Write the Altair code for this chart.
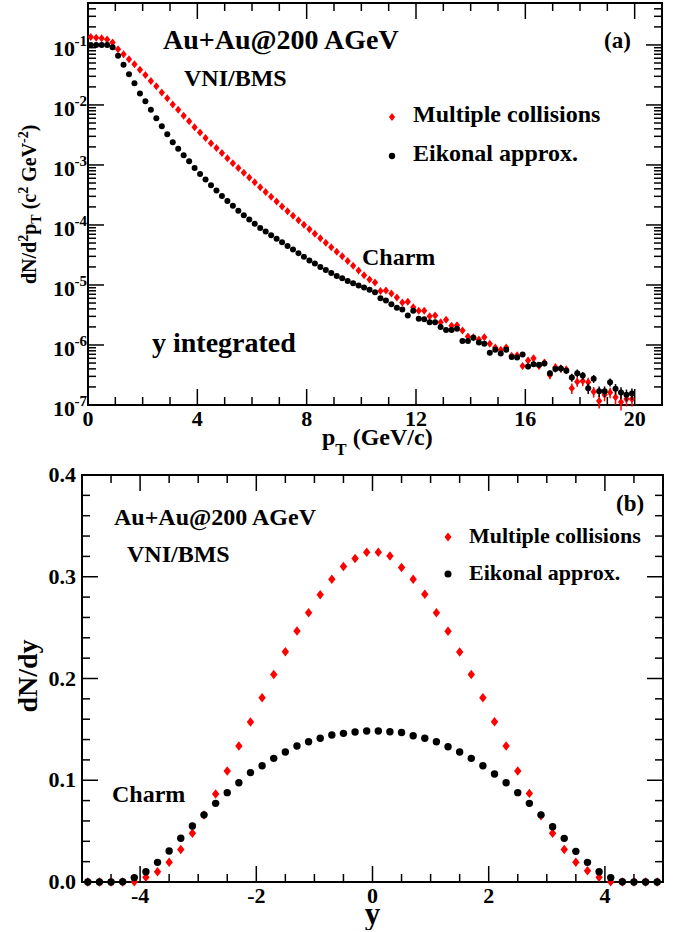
import altair as alt
import pandas as pd

FONT = "Liberation Serif"
RED = "#ff0000"
BLACK = "#000000"
DIAMOND = "M0,-1L0.78,0L0,1L-0.78,0Z"

# ---------------- panel (a): pT spectra ----------------
pt = [round(0.1 + 0.2 * i, 1) for i in range(100)]
multi_pt = [0.135, 0.132, 0.129, 0.123, 0.110, 0.0851, 0.0700, 0.0575, 0.0479, 0.0385,
            0.0316, 0.0251, 0.0204, 0.0162, 0.0129, 0.0102, 0.00832, 0.00661, 0.00537, 0.00427,
            0.00347, 0.00282, 0.00229, 0.00191, 0.00158, 0.00129, 0.00107, 8.91e-4, 7.41e-4, 6.17e-4,
            5.13e-4, 4.27e-4, 3.55e-4, 2.95e-4, 2.45e-4, 2.04e-4, 1.70e-4, 1.43e-4, 1.20e-4, 1.01e-4,
            8.51e-5, 7.16e-5, 6.03e-5, 5.07e-5, 4.27e-5, 3.59e-5, 3.02e-5, 2.51e-5, 2.09e-5, 1.74e-5,
            1.45e-5, 1.23e-5, 1.10e-5, 7.94e-6, 8.13e-6, 7.24e-6, 6.17e-6, 5.13e-6, 5.25e-6, 4.27e-6,
            3.72e-6, 3.72e-6, 3.02e-6, 3.09e-6, 2.40e-6, 2.63e-6, 2.09e-6, 2.14e-6, 1.74e-6, 1.38e-6,
            1.35e-6, 1.23e-6, 1.35e-6, 1.05e-6, 9.12e-7, 8.32e-7, 9.12e-7, 6.61e-7, 6.76e-7, 4.47e-7,
            5.50e-7, 6.03e-7, 4.47e-7, 5.13e-7, 3.16e-7, 4.27e-7, 4.07e-7, 3.89e-7, 1.91e-7, 2.45e-7,
            2.51e-7, 2.40e-7, 1.66e-7, 1.17e-7, 1.48e-7, 1.62e-7, 1.35e-7, 1.12e-7, 1.26e-7, 1.26e-7]
eik_pt = [0.100, 0.100, 0.100, 0.100, 0.0912, 0.0661, 0.0468, 0.0324, 0.0229, 0.0155,
          0.0115, 0.00832, 0.00603, 0.00442, 0.00324, 0.00240, 0.00186, 0.00145, 0.00115, 8.91e-4,
          7.08e-4, 5.75e-4, 4.57e-4, 3.76e-4, 3.05e-4, 2.51e-4, 2.09e-4, 1.72e-4, 1.45e-4, 1.23e-4,
          1.05e-4, 8.91e-5, 7.76e-5, 6.76e-5, 5.89e-5, 5.13e-5, 4.47e-5, 3.89e-5, 3.39e-5, 2.95e-5,
          2.57e-5, 2.29e-5, 2.00e-5, 1.78e-5, 1.58e-5, 1.41e-5, 1.29e-5, 1.17e-5, 1.07e-5, 9.77e-6,
          9.12e-6, 8.32e-6, 7.59e-6, 6.03e-6, 5.50e-6, 4.79e-6, 4.17e-6, 3.89e-6, 3.09e-6, 3.72e-6,
          2.75e-6, 2.69e-6, 2.40e-6, 2.40e-6, 2.00e-6, 1.78e-6, 1.78e-6, 1.86e-6, 1.17e-6, 1.17e-6,
          1.32e-6, 1.10e-6, 1.05e-6, 7.41e-7, 8.32e-7, 7.24e-7, 8.32e-7, 6.31e-7, 6.17e-7, 6.92e-7,
          4.37e-7, 4.79e-7, 4.68e-7, 4.90e-7, 3.39e-7, 3.98e-7, 4.07e-7, 3.72e-7, 2.88e-7, 3.39e-7,
          3.09e-7, 1.91e-7, 2.75e-7, 1.70e-7, 1.70e-7, 2.40e-7, 1.86e-7, 1.62e-7, 1.48e-7, 1.55e-7]
# relative errors of the last points (pT 15.5 ... 19.9)
err_from = 77
multi_err = [0.08, 0.08, 0.08, 0.12, 0.12, 0.12, 0.12, 0.15, 0.15, 0.15, 0.15, 0.20,
             0.18, 0.18, 0.18, 0.20, 0.25, 0.22, 0.20, 0.25, 0.28, 0.25, 0.25]
eik_err = [0.06, 0.06, 0.06, 0.10, 0.10, 0.10, 0.10, 0.12, 0.12, 0.12, 0.12, 0.15,
           0.15, 0.15, 0.20, 0.15, 0.20, 0.20, 0.15, 0.20, 0.22, 0.22, 0.22]

pt_ticks = [0, 4, 8, 12, 16, 20]
pt_labels = ["0", "4", "8", "12", "16", "20"]
pt_minor = [1, 2, 3, 5, 6, 7, 9, 10, 11, 13, 14, 15, 17, 18, 19]
decades = [1e-1, 1e-2, 1e-3, 1e-4, 1e-5, 1e-6, 1e-7]
decade_exp = ["-1", "-2", "-3", "-4", "-5", "-6", "-7"]
log_minor = [m * d for d in decades for m in range(2, 10) if m * d <= 0.5]

# ---------------- panel (b): rapidity ----------------
rap = [round(-4.9 + 0.2 * i, 1) for i in range(50)]
multi_y = [0, 0, 0, 0, 0.0003, 0.0046, 0.0101, 0.0193, 0.032, 0.0478,
           0.0658, 0.0865, 0.109, 0.1337, 0.1573, 0.181, 0.204, 0.2264, 0.2467, 0.2647,
           0.2824, 0.2975, 0.31, 0.318, 0.324, 0.324, 0.3204, 0.309, 0.2975, 0.2827,
           0.2647, 0.2464, 0.226, 0.204, 0.181, 0.1575, 0.1337, 0.109, 0.0871, 0.065,
           0.0478, 0.032, 0.0193, 0.011, 0.0046, 0.0003, 0, 0, 0, 0]
eik_y = [0, 0, 0, 0.0003, 0.0043, 0.0101, 0.0193, 0.0305, 0.043, 0.055,
         0.066, 0.0773, 0.0878, 0.0976, 0.1075, 0.1143, 0.1215, 0.1278, 0.1337, 0.1379,
         0.1412, 0.1445, 0.1461, 0.1474, 0.1484, 0.1484, 0.1477, 0.147, 0.1438, 0.1412,
         0.1379, 0.133, 0.1278, 0.1215, 0.1143, 0.1061, 0.0976, 0.0878, 0.0773, 0.066,
         0.0544, 0.0429, 0.0301, 0.0193, 0.01, 0.0043, 0.0003, 0, 0, 0]
rap_ticks = [-4, -2, 0, 2, 4]
rap_labels = ["-4", "-2", "0", "2", "4"]
rap_minor = [-4.5, -3.5, -3, -2.5, -1.5, -1, -0.5, 0.5, 1, 1.5, 2.5, 3, 3.5, 4.5]
dndy_ticks = [0.0, 0.1, 0.2, 0.3, 0.4]
dndy_labels = ["0.0", "0.1", "0.2", "0.3", "0.4"]
dndy_minor = [0.02, 0.04, 0.06, 0.08, 0.12, 0.14, 0.16, 0.18, 0.22, 0.24, 0.26, 0.28,
              0.32, 0.34, 0.36, 0.38]

ONE = pd.DataFrame({"k": [0]})
# both panels share the same origin (left edge of panel b's frame)
SH = 6                      # panel (a) frame starts 6 px to the right of panel (b)'s
W1, H1 = 580, 402           # panel (a) area incl. the 6 px shift
W2, H2 = 581, 407

TW = {"d": 0.556, "N": 0.722, "/": 0.278, "2": 0.5, "p": 0.556, "T": 0.667, "(": 0.333,
      "c": 0.444, " ": 0.25, "G": 0.778, "e": 0.444, "V": 0.722, "-": 0.333, ")": 0.333}


def tw(s, size):
    return sum(TW[c] for c in s) * size


def label(text, x, y, size, align="left", angle=0, baseline="alphabetic"):
    return alt.Chart(ONE).mark_text(
        text=text, font=FONT, fontWeight="bold", fontSize=size, align=align,
        baseline=baseline, angle=angle, color=BLACK
    ).encode(x=alt.value(x), y=alt.value(y))


def marker(x, y, shape, size, color):
    return alt.Chart(ONE).mark_point(
        shape=shape, size=size, filled=True, color=color, opacity=1, strokeWidth=0
    ).encode(x=alt.value(x), y=alt.value(y))


def frame(x0, x1, H):
    return alt.Chart(ONE).mark_rect(
        fillOpacity=0, stroke=BLACK, strokeWidth=2
    ).encode(x=alt.value(x0), x2=alt.value(x1), y=alt.value(0), y2=alt.value(H))


def xticks(vals, scale, H, L):
    df = pd.DataFrame({"v": vals})
    base = alt.Chart(df).mark_rule(color=BLACK, strokeWidth=1.5)
    xe = alt.X("v:Q", scale=scale, axis=None)
    return [base.encode(x=xe, y=alt.value(H), y2=alt.value(H - L)),
            base.encode(x=xe, y=alt.value(0), y2=alt.value(L))]


def yticks(vals, scale, x0, x1, L):
    df = pd.DataFrame({"v": vals})
    base = alt.Chart(df).mark_rule(color=BLACK, strokeWidth=1.5)
    ye = alt.Y("v:Q", scale=scale, axis=None)
    return [base.encode(y=ye, x=alt.value(x0), x2=alt.value(x0 + L)),
            base.encode(y=ye, x=alt.value(x1), x2=alt.value(x1 - L))]


def anchor(x, y1, y2):
    return alt.Chart(ONE).mark_rule(color="white", strokeWidth=1).encode(
        x=alt.value(x), y=alt.value(y1), y2=alt.value(y2))


# ======== panel (a) ========
xa = alt.Scale(domain=[-SH * 21 / (W1 - SH), 21], nice=False, zero=False)
ya = alt.Scale(type="log", domain=[1e-7, 0.5], nice=False)
df_a = pd.DataFrame({"pt": pt, "multi": multi_pt, "eik": eik_pt})
df_err = pd.DataFrame({
    "pt": pt[err_from:],
    "m_lo": [v * (1 - e) for v, e in zip(multi_pt[err_from:], multi_err)],
    "m_hi": [v * (1 + e) for v, e in zip(multi_pt[err_from:], multi_err)],
    "e_lo": [v * (1 - e) for v, e in zip(eik_pt[err_from:], eik_err)],
    "e_hi": [v * (1 + e) for v, e in zip(eik_pt[err_from:], eik_err)],
})
X_a = alt.X("pt:Q", scale=xa, axis=None)

layers_a = [anchor(-81.5, -2, 455), frame(SH, W1, H1)]
layers_a += xticks(pt_ticks, xa, H1, 16) + xticks(pt_minor, xa, H1, 8)
layers_a += yticks(decades, ya, SH, W1, 16) + yticks(log_minor, ya, SH, W1, 8)
layers_a.append(alt.Chart(df_err).mark_rule(color=RED, strokeWidth=1.5).encode(
    x=X_a, y=alt.Y("m_lo:Q", scale=ya, axis=None), y2="m_hi:Q"))
layers_a.append(alt.Chart(df_a).mark_point(
    shape=DIAMOND, size=64, filled=True, color=RED, opacity=1, strokeWidth=0).encode(
    x=X_a, y=alt.Y("multi:Q", scale=ya, axis=None)))
layers_a.append(alt.Chart(df_err).mark_rule(color=BLACK, strokeWidth=1.5).encode(
    x=X_a, y=alt.Y("e_lo:Q", scale=ya, axis=None), y2="e_hi:Q"))
layers_a.append(alt.Chart(df_a).mark_circle(size=36, color=BLACK, opacity=1).encode(
    x=X_a, y=alt.Y("eik:Q", scale=ya, axis=None)))

# tick labels
df_xl = pd.DataFrame({"v": pt_ticks, "lab": pt_labels})
layers_a.append(alt.Chart(df_xl).mark_text(
    font=FONT, fontWeight="bold", fontSize=22, align="center", baseline="alphabetic",
    color=BLACK).encode(x=alt.X("v:Q", scale=xa, axis=None), y=alt.value(H1 + 21), text="lab:N"))
df_yl = pd.DataFrame({"v": decades, "e": decade_exp})
layers_a.append(alt.Chart(df_yl).mark_text(
    text="10", font=FONT, fontWeight="bold", fontSize=22, align="right", baseline="alphabetic",
    dy=11, color=BLACK).encode(x=alt.value(SH - 13), y=alt.Y("v:Q", scale=ya, axis=None)))
layers_a.append(alt.Chart(df_yl).mark_text(
    font=FONT, fontWeight="bold", fontSize=15, align="right", baseline="alphabetic",
    dy=1, color=BLACK).encode(x=alt.value(SH - 1), y=alt.Y("v:Q", scale=ya, axis=None), text="e:N"))

# axis titles
segs = [("dN/d", 0), ("2", -1), ("p", 0), ("T", 1), (" ", 0), ("(c", 0), ("2", -1),
        (" ", 0), ("GeV", 0), ("-2", -1), (")", 0)]
off = 0.0
xb, y0 = SH - 52.5, 281
for s, kind in segs:
    size = 20 if kind == 0 else 14
    if s.strip():
        layers_a.append(label(s, xb + {0: 0, -1: -8, 1: 5}[kind], y0 - off, size, angle=270))
    off += tw(s, size)
px0 = SH + 234
layers_a.append(label("p", px0, 442, 24))
layers_a.append(label("T", px0 + tw("p", 24), 452, 17))
layers_a.append(label("(GeV/c)", px0 + tw("p", 24) + tw("T", 17) + tw(" ", 24), 442, 24))

# annotations
layers_a += [
    label("Au+Au@200 AGeV", SH + 75, 46, 28),
    label("(a)", SH + 516, 45, 23),
    label("VNI/BMS", SH + 96, 83, 24),
    marker(SH + 304, 114, DIAMOND, 64, RED),
    label("Multiple collisions", SH + 325, 119, 24),
    marker(SH + 304, 153, "circle", 40, BLACK),
    label("Eikonal approx.", SH + 325, 158, 24),
    label("Charm", SH + 274, 262, 24),
    label("y integrated", SH + 64, 349, 28),
]
panel_a = alt.layer(*layers_a).properties(width=W1, height=H1)

# ======== panel (b) ========
xb_s = alt.Scale(domain=[-5, 5], nice=False, zero=False)
yb_s = alt.Scale(domain=[0, 0.4], nice=False, zero=False)
df_b = pd.DataFrame({"y": rap, "multi": multi_y, "eik": eik_y})
X_b = alt.X("y:Q", scale=xb_s, axis=None)

layers_b = [anchor(-81.5, -15.5, H2 + 45), frame(0, W2, H2)]
layers_b += xticks(rap_ticks, xb_s, H2, 16) + xticks(rap_minor, xb_s, H2, 8)
layers_b += yticks(dndy_ticks, yb_s, 0, W2, 16) + yticks(dndy_minor, yb_s, 0, W2, 8)
layers_b.append(alt.Chart(df_b).mark_point(
    shape=DIAMOND, size=90, filled=True, color=RED, opacity=1, strokeWidth=0).encode(
    x=X_b, y=alt.Y("multi:Q", scale=yb_s, axis=None)))
layers_b.append(alt.Chart(df_b).mark_circle(size=55, color=BLACK, opacity=1).encode(
    x=X_b, y=alt.Y("eik:Q", scale=yb_s, axis=None)))

df_bxl = pd.DataFrame({"v": rap_ticks, "lab": rap_labels})
layers_b.append(alt.Chart(df_bxl).mark_text(
    font=FONT, fontWeight="bold", fontSize=22, align="center", baseline="alphabetic",
    color=BLACK).encode(x=alt.X("v:Q", scale=xb_s, axis=None), y=alt.value(H2 + 21), text="lab:N"))
df_byl = pd.DataFrame({"v": dndy_ticks, "lab": dndy_labels})
layers_b.append(alt.Chart(df_byl).mark_text(
    font=FONT, fontWeight="bold", fontSize=22, align="right", baseline="middle",
    color=BLACK).encode(x=alt.value(-6), y=alt.Y("v:Q", scale=yb_s, axis=None), text="lab:N"))

layers_b += [
    label("dN/dy", -45, 201, 28, align="center", angle=270),
    label("y", 290.5, 449, 31, align="center"),
    label("Au+Au@200 AGeV", 32, 50, 24),
    label("VNI/BMS", 45, 87, 24),
    label("(b)", 534, 36, 23),
    marker(366, 62, DIAMOND, 81, RED),
    label("Multiple collisions", 387, 68, 22),
    marker(366, 99, "circle", 50, BLACK),
    label("Eikonal approx.", 387, 105, 22),
    label("Charm", 30, 327, 24),
]
panel_b = alt.layer(*layers_b).properties(width=W2, height=H2)

chart = alt.vconcat(panel_a, panel_b, spacing=0).properties(
    padding=0, background="white"
).configure_view(stroke="transparent", strokeWidth=0)

chart.save("out.html", embed_options={"renderer": "svg", "actions": False})
